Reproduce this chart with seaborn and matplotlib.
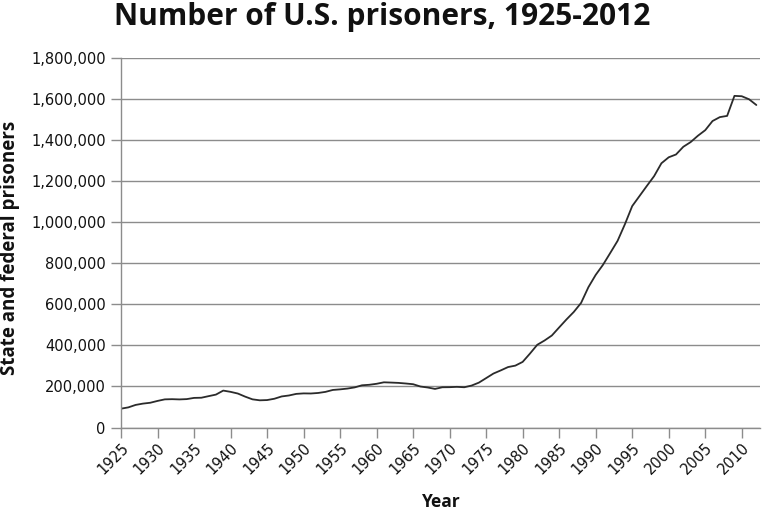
import pandas as pd
import matplotlib
matplotlib.use("Agg")
import matplotlib.pyplot as plt
import matplotlib.ticker as mticker
import seaborn as sns

# state and federal prisoners by year
years = list(range(1925, 2013))
prisoners = [
    91669, 97991, 109983, 116390, 120496, 129453, 137082, 137997, 136810, 138316,
    144180, 145038, 152741, 160285, 179818, 173706, 165439, 150384, 137220, 132456,
    133649, 140079, 151304, 155977, 163749, 166123, 165680, 168233, 173579, 182901,
    185780, 189565, 195414, 205643, 208105, 212953, 220149, 218830, 217283, 214336,
    210895, 199654, 194896, 187914, 196007, 196429, 198061, 196092, 204211, 218466,
    240593, 262833, 278141, 294396, 301470, 319598, 360029, 402914, 423898, 448264,
    487593, 526436, 562814, 606810, 683367, 743382, 792535, 850566, 909381, 990147,
    1078542, 1127528, 1176564, 1224469, 1287172, 1316333, 1330007, 1367547, 1390279, 1421345,
    1448344, 1492973, 1512000, 1518000, 1615487, 1613803, 1598968, 1571013,
]
year_ticks = list(range(1925, 2011, 5))
y_ticks = list(range(0, 1800001, 200000))

df = pd.DataFrame({"Year": years, "Prisoners": prisoners})

sns.set_style("white")
plt.rcParams["font.family"] = ["DejaVu Sans"]

fig = plt.figure(figsize=(7.62, 5.11), dpi=100)
ax = fig.add_axes([121 / 762, 1 - 427.5 / 511, (760 - 121) / 762, (427.5 - 58) / 511])

sns.lineplot(data=df, x="Year", y="Prisoners", ax=ax, color="#2b2b2b", linewidth=1.3)

ax.set_xlim(1925, 2012.5)
ax.set_ylim(0, 1800000)
ax.set_xticks(year_ticks)
ax.set_yticks(y_ticks)
ax.yaxis.set_major_formatter(mticker.FuncFormatter(lambda v, p: f"{int(v):,}"))
ax.grid(axis="y", color="#8c8c8c", linewidth=1)
ax.set_axisbelow(True)
for s in ["top", "right"]:
    ax.spines[s].set_visible(False)
for s in ["left", "bottom"]:
    ax.spines[s].set_color("#8c8c8c")
    ax.spines[s].set_linewidth(1)
ax.tick_params(axis="both", which="both", direction="out", length=7, width=1,
               color="#8c8c8c", labelsize=10.5, labelcolor="#111111")
ax.tick_params(axis="x", bottom=True, pad=2)
ax.tick_params(axis="y", left=True, pad=4)
plt.setp(ax.get_xticklabels(), rotation=45, ha="right", rotation_mode="anchor")
ax.set_xlabel("")
ax.set_ylabel("")

bold_font = ["Open Sans", "DejaVu Sans"]
fig.text(382 / 762, 1 - 25 / 511, "Number of U.S. prisoners, 1925-2012", ha="center", va="baseline",
         fontsize=21.5, fontweight="bold", family=bold_font, color="#111111")
fig.text(10 / 762, 1 - 248 / 511, "State and federal prisoners", rotation=90, ha="center",
         va="center", fontsize=13.5, fontweight="bold", family=bold_font, color="#111111")
fig.text(441 / 762, 1 - 502 / 511, "Year", ha="center", va="center", fontsize=12.5,
         fontweight="bold", family=bold_font, color="#111111")

fig.savefig("out.png", dpi=100)
